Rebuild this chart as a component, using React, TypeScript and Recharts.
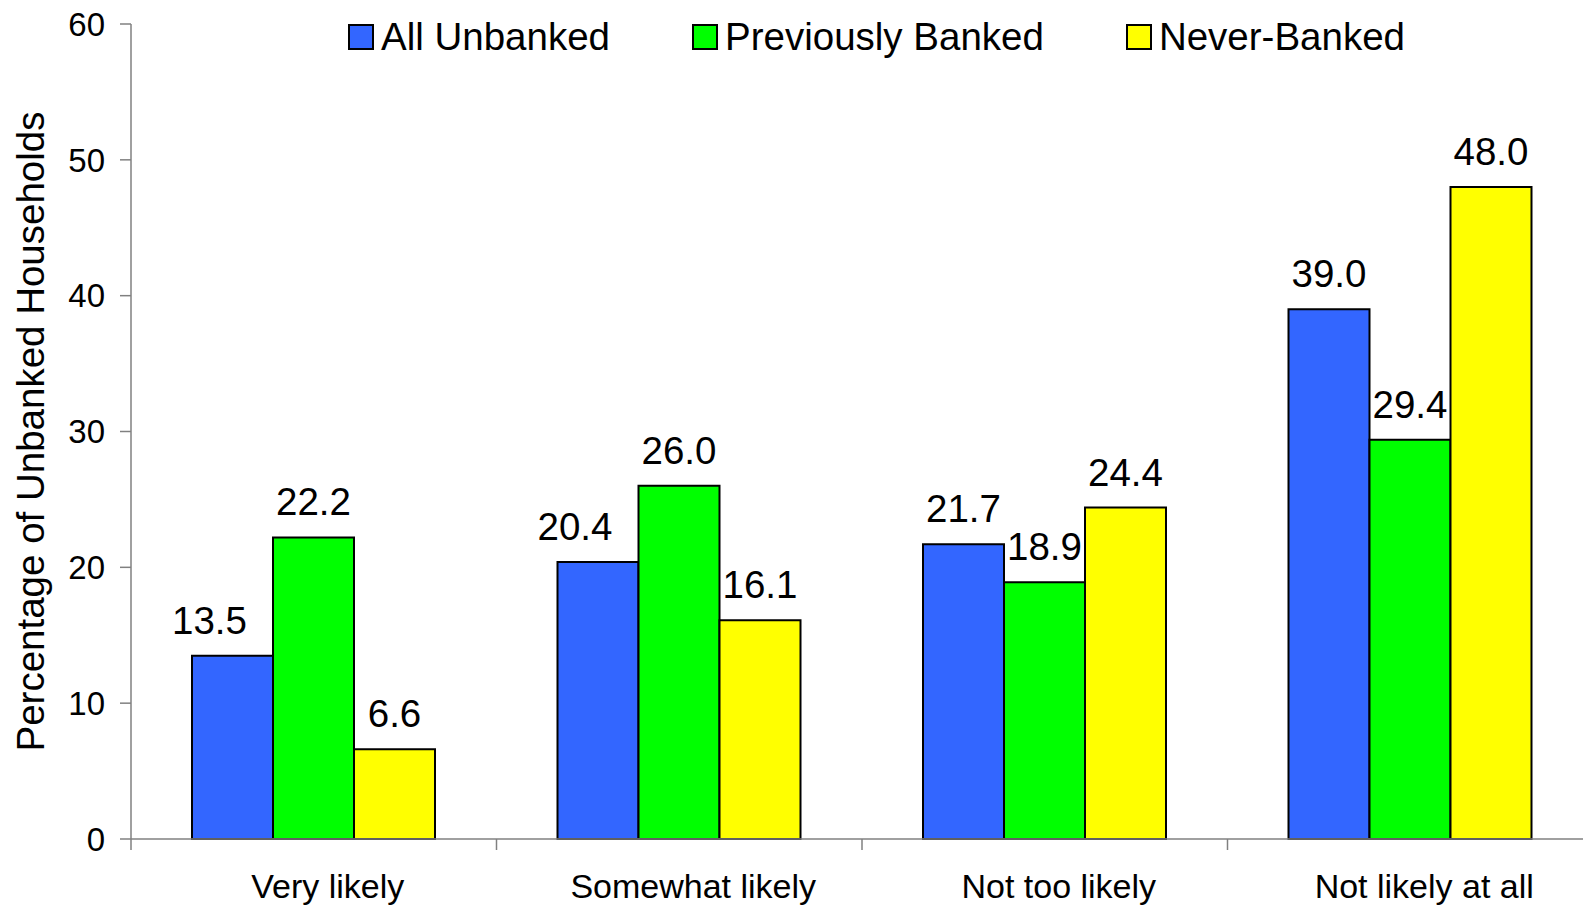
import { BarChart, Bar, XAxis, YAxis, Legend, LabelList } from 'recharts'

const categories = ['Very likely', 'Somewhat likely', 'Not too likely', 'Not likely at all']
const allUnbanked = [13.5, 20.4, 21.7, 39.0]
const previouslyBanked = [22.2, 26.0, 18.9, 29.4]
const neverBanked = [6.6, 16.1, 24.4, 48.0]
const yTicks = [0, 10, 20, 30, 40, 50, 60]

const series = [
  { key: 'allUnbanked', name: 'All Unbanked', color: '#3366FF' },
  { key: 'previouslyBanked', name: 'Previously Banked', color: '#00FF00' },
  { key: 'neverBanked', name: 'Never-Banked', color: '#FFFF00' },
]

const data = categories.map((c, i) => ({
  category: c,
  allUnbanked: allUnbanked[i],
  previouslyBanked: previouslyBanked[i],
  neverBanked: neverBanked[i],
}))

const font = '"Liberation Sans", Arial, sans-serif'
const axisColor = '#808080'

function CategoryTick(props: any) {
  const { x, y, payload, index, visibleTicksCount } = props
  const half = payload.offset ?? 0
  return (
    <g>
      <line x1={x - half} x2={x - half} y1={y} y2={y + 11} stroke={axisColor} strokeWidth={1.5} />
      {index === visibleTicksCount - 1 && (
        <line x1={x + half} x2={x + half} y1={y} y2={y + 11} stroke={axisColor} strokeWidth={1.5} />
      )}
      <text x={x + 14} y={y + 59} textAnchor="middle" fontSize={34} fontFamily={font} fill="#000">
        {payload.value}
      </text>
    </g>
  )
}

function AxisTitle(props: any) {
  const vb = props.viewBox
  const cx = vb.x + 30
  const cy = vb.y + vb.height / 2
  return (
    <text
      x={cx}
      y={cy}
      transform={`rotate(-90 ${cx} ${cy})`}
      textAnchor="middle"
      dominantBaseline="central"
      fontSize={38.5}
      fontFamily={font}
      fill="#000"
    >
      Percentage of Unbanked Households
    </text>
  )
}

// Excel nudged the blue labels left where the green neighbour is taller
function BlueLabel(props: any) {
  const { x, y, width, value, index } = props
  const shift = previouslyBanked[index] > allUnbanked[index] ? -23 : 0
  return (
    <text x={x + width / 2 + shift} y={y - 22} textAnchor="middle" fontSize={38.5} fontFamily={font} fill="#000">
      {Number(value).toFixed(1)}
    </text>
  )
}

function LegendBox() {
  return (
    <div style={{ display: 'flex', alignItems: 'center', fontFamily: font, fontSize: 38.5, color: '#000' }}>
      {series.map((s, i) => (
        <div key={s.key} style={{ display: 'flex', alignItems: 'center', marginRight: i < series.length - 1 ? 82 : 0 }}>
          <span
            style={{
              width: 22,
              height: 22,
              background: s.color,
              border: '2px solid #000',
              marginRight: 7,
              display: 'inline-block',
            }}
          />
          <span>{s.name}</span>
        </div>
      ))}
    </div>
  )
}

export default function App() {
  return (
    <div style={{ position: 'absolute', left: 0, top: 0, width: 1583, height: 905, overflow: 'hidden', background: '#fff' }}>
      <BarChart
        width={1593}
        height={905}
        data={data}
        margin={{ top: 24, right: 0, left: 0, bottom: 0 }}
        barCategoryGap={61}
        barGap={0}
      >
        <XAxis
          dataKey="category"
          height={66}
          stroke={axisColor}
          strokeWidth={1.5}
          tickLine={false}
          tickSize={0}
          tickMargin={0}
          tick={<CategoryTick />}
          interval={0}
        />
        <YAxis
          width={131}
          domain={[0, 60]}
          ticks={yTicks}
          stroke={axisColor}
          strokeWidth={1.5}
          tickSize={11}
          tickMargin={15}
          tick={{ fill: '#000', fontSize: 33, fontFamily: font }}
          label={AxisTitle}
        />
        <Legend
          verticalAlign="middle"
          align="center"
          layout="horizontal"
          wrapperStyle={{ top: 15, left: 348, width: 'auto' }}
          content={<LegendBox />}
        />
        {series.map((s) => (
          <Bar
            key={s.key}
            dataKey={s.key}
            name={s.name}
            fill={s.color}
            stroke="#000"
            strokeWidth={2}
            isAnimationActive={false}
          >
            {s.key === 'allUnbanked' ? (
              <LabelList dataKey={s.key} content={<BlueLabel />} />
            ) : (
              <LabelList
                dataKey={s.key}
                position="top"
                offset={22}
                formatter={(v: any) => Number(v).toFixed(1)}
                style={{ fontSize: 38.5, fontFamily: font, fill: '#000' }}
              />
            )}
          </Bar>
        ))}
      </BarChart>
    </div>
  )
}
